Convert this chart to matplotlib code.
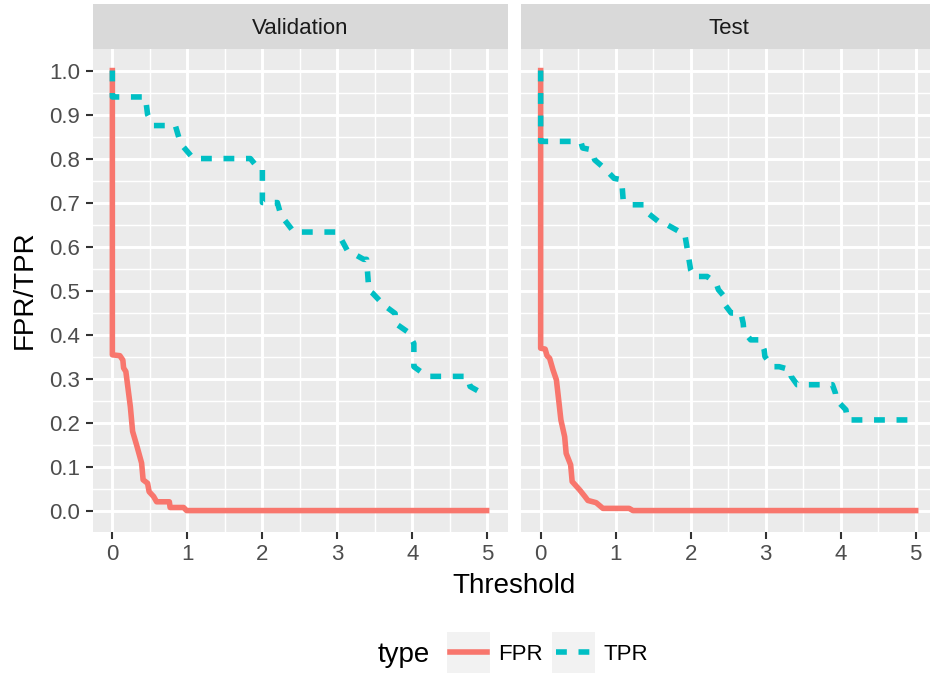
import matplotlib
matplotlib.use("Agg")
import matplotlib.pyplot as plt
from matplotlib.patches import Rectangle
from matplotlib.lines import Line2D

plt.rcParams['font.family'] = ['Liberation Sans', 'DejaVu Sans']

# values
panels = ["Validation", "Test"]

val_fpr_x = [0, 0, 0.10, 0.14, 0.15, 0.18, 0.24, 0.27, 0.33, 0.39, 0.41, 0.47, 0.49, 0.55,
             0.59, 0.76, 0.77, 0.95, 0.99, 4.99]
val_fpr_y = [1.0, 0.354, 0.352, 0.342, 0.324, 0.316, 0.236, 0.18, 0.145, 0.108, 0.07, 0.062,
             0.043, 0.032, 0.020, 0.020, 0.007, 0.007, 0.0, 0.0]

val_tpr_x = [0, 0, 0.44, 0.47, 0.55, 0.84, 0.91, 1.08, 1.84, 1.95, 2.0, 2.0, 2.2, 2.25, 2.33,
             2.42, 3.0, 3.13, 3.35, 3.39, 3.42, 3.47, 3.62, 3.77, 3.77, 3.93, 4.02, 4.02, 4.2,
             4.73, 4.77, 4.97]
val_tpr_y = [1.0, 0.94, 0.94, 0.90, 0.875, 0.875, 0.834, 0.80, 0.80, 0.777, 0.777, 0.70, 0.70,
             0.67, 0.653, 0.633, 0.633, 0.592, 0.571, 0.571, 0.50, 0.494, 0.467, 0.448, 0.426,
             0.407, 0.38, 0.327, 0.305, 0.305, 0.282, 0.263]

test_fpr_x = [0, 0, 0.06, 0.085, 0.12, 0.164, 0.21, 0.24, 0.27, 0.32, 0.34, 0.40, 0.42, 0.52,
              0.59, 0.63, 0.74, 0.83, 1.18, 1.23, 5.0]
test_fpr_y = [1.0, 0.369, 0.367, 0.352, 0.346, 0.32, 0.297, 0.252, 0.206, 0.168, 0.13, 0.104,
              0.066, 0.047, 0.032, 0.023, 0.018, 0.005, 0.005, 0.0, 0.0]

test_tpr_x = [0, 0, 0.50, 0.54, 0.56, 0.68, 0.72, 0.85, 0.98, 1.08, 1.10, 1.21, 1.38, 1.43,
              1.60, 1.65, 1.85, 1.92, 1.96, 2.0, 2.05, 2.22, 2.34, 2.37, 2.45, 2.46, 2.54, 2.67,
              2.70, 2.71, 2.80, 2.93, 2.98, 2.99, 3.09, 3.18, 3.33, 3.34, 3.42, 3.89, 3.93, 3.94,
              4.07, 4.09, 4.91]
test_tpr_y = [1.0, 0.839, 0.839, 0.836, 0.824, 0.82, 0.797, 0.778, 0.755, 0.752, 0.706, 0.695,
              0.695, 0.676, 0.653, 0.653, 0.634, 0.63, 0.589, 0.547, 0.532, 0.532, 0.517, 0.502,
              0.486, 0.467, 0.449, 0.449, 0.426, 0.407, 0.388, 0.388, 0.365, 0.35, 0.327, 0.327,
              0.32, 0.305, 0.286, 0.286, 0.267, 0.252, 0.229, 0.206, 0.206]

data = {
    "Validation": (val_fpr_x, val_fpr_y, val_tpr_x, val_tpr_y),
    "Test": (test_fpr_x, test_fpr_y, test_tpr_x, test_tpr_y),
}

FPR_COL = "#F8766D"
TPR_COL = "#00BFC4"
LW = 4.0
DASH = (0, (1.95, 2.1))

W, H = 930, 675
fig = plt.figure(figsize=(W / 100, H / 100), dpi=100)


def fx(px):
    return px / W


def fy(py):
    return 1 - py / H


panel_left = [92.7, 521.0]
panel_w = 415.3
panel_top, panel_bot = 49.0, 531.7
strip_top = 4.0

for i, name in enumerate(panels):
    ax = fig.add_axes([fx(panel_left[i]), fy(panel_bot), panel_w / W, (panel_bot - panel_top) / H])
    ax.set_facecolor("#EBEBEB")
    for s in ax.spines.values():
        s.set_visible(False)
    ax.set_xlim(-0.262, 5.275)
    ax.set_ylim(-0.048, 1.049)
    ax.set_xticks([0, 1, 2, 3, 4, 5])
    ax.set_xticks([0.5, 1.5, 2.5, 3.5, 4.5], minor=True)
    ax.set_yticks([j / 10 for j in range(11)])
    ax.set_yticks([j / 10 + 0.05 for j in range(10)], minor=True)
    ax.grid(which="major", color="white", linewidth=2.1)
    ax.grid(which="minor", color="white", linewidth=1.05)
    ax.set_axisbelow(True)
    ax.tick_params(which="major", length=5, width=1.5, color="#333333",
                   labelsize=16, labelcolor="#4D4D4D", pad=4)
    ax.tick_params(which="minor", length=0)
    if i == 0:
        ax.set_yticklabels(["%.1f" % (j / 10) for j in range(11)])
    else:
        ax.tick_params(axis="y", which="major", length=0, labelleft=False)

    fpr_x, fpr_y, tpr_x, tpr_y = data[name]
    ax.plot(fpr_x, fpr_y, color=FPR_COL, linewidth=LW, solid_joinstyle="round", clip_on=False)
    ax.plot(tpr_x, tpr_y, color=TPR_COL, linewidth=LW, linestyle=DASH, clip_on=False)

    sax = fig.add_axes([fx(panel_left[i]), fy(panel_top), panel_w / W, (panel_top - strip_top) / H])
    sax.set_facecolor("#D9D9D9")
    for s in sax.spines.values():
        s.set_visible(False)
    sax.set_xticks([])
    sax.set_yticks([])
    sax.text(0.5, 0.5, name, ha="center", va="center_baseline", fontsize=16, color="#1A1A1A",
             transform=sax.transAxes)

fig.text(fx(514), fy(583), "Threshold", ha="center", va="center_baseline", fontsize=20)
fig.text(fx(25), fy(290), "FPR/TPR", ha="center", va="center", rotation=90, fontsize=20)

# legend at the bottom
ly = 652
fig.text(fx(378), fy(ly), "type", ha="left", va="center_baseline", fontsize=20)
for bx, col, ls, lab in [(446.7, FPR_COL, "-", "FPR"), (552.0, TPR_COL, DASH, "TPR")]:
    fig.add_artist(Rectangle((fx(bx), fy(672.7)), 43.3 / W, 41 / H, transform=fig.transFigure,
                             facecolor="#F2F2F2", edgecolor="none"))
    fig.add_artist(Line2D([fx(bx + 3.5), fx(bx + 40)], [fy(ly), fy(ly)], transform=fig.transFigure,
                          color=col, linewidth=LW, linestyle=ls))
    fig.text(fx(bx + 51.5), fy(ly), lab, ha="left", va="center_baseline", fontsize=16)

plt.savefig("out.png", dpi=100)
